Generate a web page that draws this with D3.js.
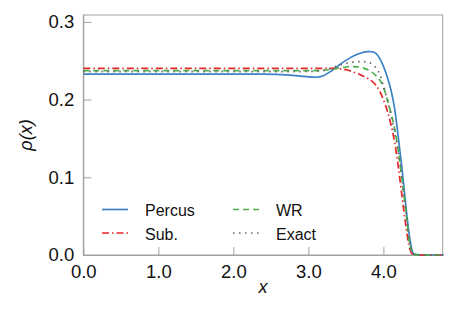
<!DOCTYPE html>
<html>
<head>
<meta charset="utf-8">
<script src="https://cdn.jsdelivr.net/npm/d3@7"></script>
<style>
  body { margin: 0; background: #fff; }
  svg text { font-family: "Liberation Sans", Arial, sans-serif; fill: #111; }
</style>
</head>
<body>
<svg id="chart" width="458" height="313"></svg>
<script>
// Shared x grid
const xs = [0, 0.5, 1.0, 1.5, 2.0, 2.4, 2.7, 2.9, 3.0, 3.1, 3.2, 3.3, 3.4, 3.5, 3.6, 3.7, 3.8, 3.85, 3.9, 3.95,
            4.0, 4.05, 4.1, 4.15, 4.2, 4.25, 4.3, 4.35, 4.4, 4.5, 4.8];

// Series values
const percus = [0.2329, 0.2329, 0.2329, 0.2329, 0.2329, 0.2327, 0.2318, 0.2302, 0.2292, 0.2288, 0.2308, 0.2365, 0.2438, 0.2505, 0.2560, 0.2600, 0.2618, 0.2616, 0.2595, 0.2530,
                0.2430, 0.2295, 0.2125, 0.1880, 0.1500, 0.1090, 0.0620, 0.0220, 0.0020, 0, 0];
const sub =    [0.2403, 0.2403, 0.2403, 0.2403, 0.2403, 0.2403, 0.2403, 0.2403, 0.2403, 0.2403, 0.2403, 0.2403, 0.2400, 0.2385, 0.2355, 0.2315, 0.2268, 0.2235, 0.2185, 0.2110,
                0.2000, 0.1860, 0.1680, 0.1450, 0.1120, 0.0740, 0.0370, 0.0080, 0.0005, 0, 0];
const wr =     [0.2372, 0.2372, 0.2372, 0.2372, 0.2372, 0.2372, 0.2372, 0.2372, 0.2372, 0.2373, 0.2377, 0.2387, 0.2405, 0.2420, 0.2425, 0.2415, 0.2380, 0.2350, 0.2310, 0.2255,
                0.2160, 0.2010, 0.1830, 0.1620, 0.1330, 0.0950, 0.0560, 0.0140, 0.0010, 0, 0];
const exact =  [0.2360, 0.2360, 0.2360, 0.2360, 0.2360, 0.2360, 0.2360, 0.2361, 0.2363, 0.2366, 0.2376, 0.2405, 0.2440, 0.2465, 0.2482, 0.2490, 0.2480, 0.2455, 0.2410, 0.2330,
                0.2180, 0.2000, 0.1800, 0.1580, 0.1310, 0.0965, 0.0560, 0.0160, 0.0010, 0, 0];

const xTicks = [0, 1, 2, 3, 4];
const yTicks = [0, 0.1, 0.2, 0.3];

const series = [
    { name: 'Percus', values: percus, color: '#3a82c4', dash: null },
    { name: 'Sub.', values: sub, color: '#e8262a', dash: '7,3,1.5,3' },
    { name: 'WR', values: wr, color: '#4daf4a', dash: '6,4' },
    { name: 'Exact', values: exact, color: '#666666', dash: '1.5,4.5' }
];

const svg = d3.select('#chart');
const plotLeft = 83.3, plotRight = 442.7, plotTop = 15, plotBottom = 255;

const x = d3.scaleLinear().domain([0, 4.79]).range([plotLeft, plotRight]);
const y = d3.scaleLinear().domain([0, 0.3089]).range([plotBottom, plotTop]);

// Frame
svg.append('rect')
    .attr('x', plotLeft).attr('y', plotTop)
    .attr('width', plotRight - plotLeft).attr('height', plotBottom - plotTop)
    .attr('fill', 'none').attr('stroke', '#a0a0a0').attr('stroke-width', 1);

// Axes with inward ticks
const xAxis = svg.append('g')
    .attr('transform', `translate(0,${plotBottom})`)
    .call(d3.axisBottom(x).tickValues(xTicks).tickFormat(d3.format('.1f')).tickSizeInner(-8).tickSizeOuter(0).tickPadding(10));
const yAxis = svg.append('g')
    .attr('transform', `translate(${plotLeft},0)`)
    .call(d3.axisLeft(y).tickValues(yTicks).tickFormat(d3.format('.1f')).tickSizeInner(-8).tickSizeOuter(0).tickPadding(9));

[xAxis, yAxis].forEach(a => {
    a.select('.domain').attr('stroke', '#a0a0a0');
    a.selectAll('.tick line').attr('stroke', '#a0a0a0');
    a.selectAll('.tick text')
        .attr('font-size', 18.5)
        .attr('font-family', '"Liberation Sans", Arial, sans-serif')
        .attr('fill', '#111');
});

// Curves
const line = d3.line()
    .x((d, i) => x(xs[i]))
    .y(d => y(d))
    .curve(d3.curveMonotoneX);

const g = svg.append('g');
series.forEach(s => {
    g.append('path')
        .datum(s.values)
        .attr('d', line)
        .attr('fill', 'none')
        .attr('stroke', s.color)
        .attr('stroke-width', 1.7)
        .attr('stroke-dasharray', s.dash);
});

// Legend
const legendPos = [
    { lx: 102, ty: 209.5 },
    { lx: 102, ty: 233 },
    { lx: 233, ty: 209.5 },
    { lx: 233, ty: 233 }
];
series.forEach((s, i) => {
    const p = legendPos[i];
    svg.append('line')
        .attr('x1', p.lx).attr('x2', p.lx + 26)
        .attr('y1', p.ty).attr('y2', p.ty)
        .attr('stroke', s.color)
        .attr('stroke-width', 1.7)
        .attr('stroke-dasharray', s.dash);
    svg.append('text')
        .attr('x', p.lx + 43)
        .attr('y', p.ty + 6.5)
        .attr('font-size', 16)
        .text(s.name);
});

// Axis labels
svg.append('text')
    .attr('x', 263).attr('y', 293)
    .attr('text-anchor', 'middle')
    .attr('font-family', '"DejaVu Serif", serif')
    .attr('font-style', 'italic')
    .attr('font-size', 18)
    .text('x');

svg.append('text')
    .attr('transform', 'translate(32,135) rotate(-90)')
    .attr('text-anchor', 'middle')
    .attr('font-family', '"DejaVu Serif", serif')
    .attr('font-style', 'italic')
    .attr('font-size', 18)
    .text('ρ(x)');
</script>
</body>
</html>
